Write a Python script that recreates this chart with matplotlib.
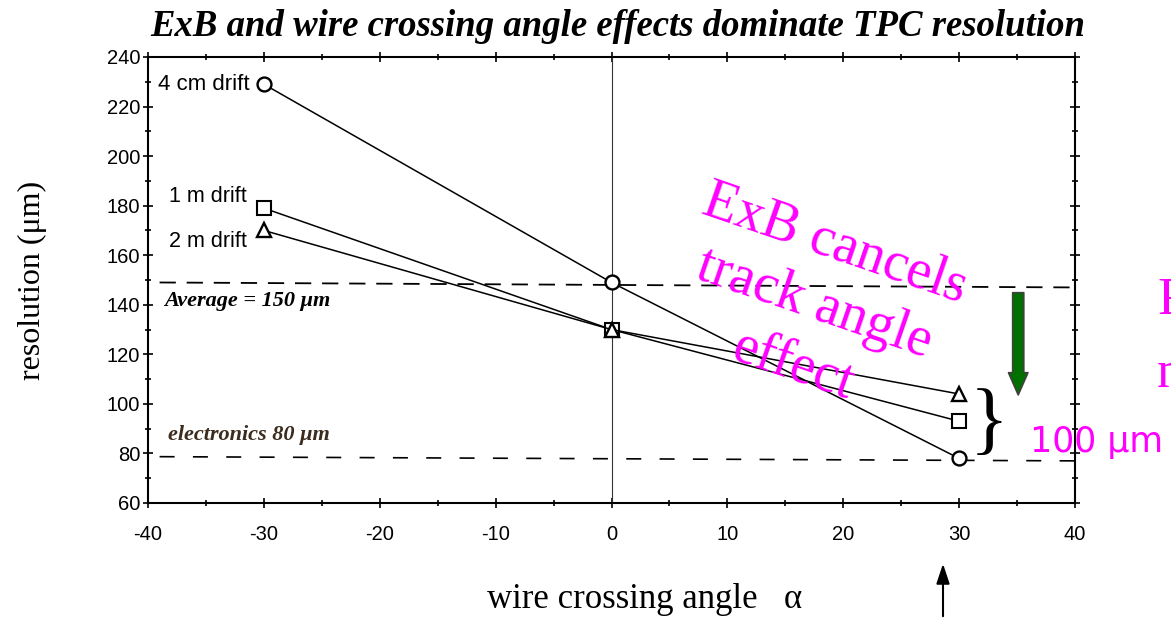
import matplotlib
matplotlib.use('Agg')
import matplotlib.pyplot as plt
from matplotlib.ticker import MultipleLocator

plt.rcParams['axes.unicode_minus'] = False

# data
angle = [-30, 0, 30]
res_4cm = [229, 149, 78]
res_1m = [179, 130, 93]
res_2m = [170, 130, 104]

avg_x = [-39, 40]
avg_y = [149, 147]
elec_x = [-39, 40]
elec_y = [78.7, 77]

xticks = [-40, -30, -20, -10, 0, 10, 20, 30, 40]
yticks = [60, 80, 100, 120, 140, 160, 180, 200, 220, 240]

W, H = 1171, 619
fig = plt.figure(figsize=(W / 100, H / 100), dpi=100)
ax = fig.add_axes([148 / W, 1 - 503 / H, (1075 - 148) / W, (503 - 57) / H])

serif = 'Liberation Serif'
sans = 'Liberation Sans'

ax.axvline(0, color='#333333', lw=0.8)
ax.plot(avg_x, avg_y, color='black', lw=1.3, ls=(0, (9, 6)))
ax.plot(elec_x, elec_y, color='black', lw=1.2, ls=(0, (9, 11)))

ax.plot(angle, res_4cm, color='black', lw=1.1, marker='o', ms=10,
        mfc='white', mec='black', mew=1.7)
ax.plot(angle, res_1m, color='black', lw=1.1, marker='s', ms=10,
        mfc='white', mec='black', mew=1.5)
ax.plot(angle, res_2m, color='black', lw=1.1, marker='^', ms=10,
        mfc='white', mec='black', mew=1.7)

ax.text(-31.2, res_4cm[0], '4 cm drift', ha='right', va='center',
        fontsize=16, family=sans)
ax.text(-31.5, 183.5, '1 m drift', ha='right', va='center', fontsize=15.5, family=sans)
ax.text(-31.5, 165.5, '2 m drift', ha='right', va='center', fontsize=15.5, family=sans)

ax.text(-38.6, 141.5, 'Average = 150 μm', ha='left', va='center', fontsize=16,
        family=serif, style='italic', weight='bold')
ax.text(-38.3, 87.5, 'electronics 80 μm', ha='left', va='center', fontsize=16,
        family=serif, style='italic', weight='bold', color='#3b2c1e')

ax.text(17.5, 140, 'ExB cancels\ntrack angle\neffect', ha='center', va='center',
        rotation=-19, rotation_mode='anchor', multialignment='center',
        fontsize=40, family=serif, color='#ff00ff', linespacing=1.3)

ax.text(32.6, 91.5, '}', ha='center', va='center', fontsize=58, family=serif,
        color='black')

ax.set_xlim(-40, 40)
ax.set_ylim(60, 240)
ax.set_xticks(xticks)
ax.set_yticks(yticks)
ax.xaxis.set_minor_locator(MultipleLocator(5))
ax.yaxis.set_minor_locator(MultipleLocator(10))
ax.tick_params(which='both', direction='inout', top=True, right=True,
               labelsize=14.5, width=1.2)
ax.tick_params(which='major', length=7)
ax.tick_params(which='minor', length=4)
for lab in ax.get_xticklabels() + ax.get_yticklabels():
    lab.set_family(sans)
ax.tick_params(axis='x', pad=12)
ax.tick_params(axis='y', pad=2)
for s in ax.spines.values():
    s.set_linewidth(1.5)

# green arrow inside plot
ax.annotate('', xy=(35.1, 102.5), xytext=(35.1, 146),
            arrowprops=dict(arrowstyle='simple,head_length=1.6,head_width=1.4,tail_width=0.8',
                            fc='#007000', ec='#404040', lw=1.2))

fig.text(1030 / W, 1 - 442 / H, '100 μm', ha='left', va='center', fontsize=25,
         family='DejaVu Sans', color='#ff00ff')
fig.text(1157 / W, 1 - 300 / H, 'Re', ha='left', va='center', fontsize=38,
         family=serif, color='#ff00ff')
fig.text(1157 / W, 1 - 375 / H, 'ne', ha='left', va='center', fontsize=38,
         family=serif, color='#ff00ff')

# black arrow below the axis
fig.add_artist(matplotlib.patches.FancyArrowPatch(
    (943 / W, 1 - 619 / H), (943 / W, 1 - 561 / H), transform=fig.transFigure,
    arrowstyle='-|>,head_length=12,head_width=4', color='black', lw=1.5))

fig.text(618 / W, 1 - 26 / H,
         'ExB and wire crossing angle effects dominate TPC resolution',
         ha='center', va='center', fontsize=26.5, family=serif,
         style='italic', weight='bold')
fig.text(32 / W, 1 - 280 / H, 'resolution (μm)', rotation=90, ha='center',
         va='center', fontsize=23, family=serif)
fig.text(645 / W, 1 - 600 / H, 'wire crossing angle   α', ha='center',
         va='center', fontsize=25, family=serif)

fig.savefig('out.png', dpi=100)
